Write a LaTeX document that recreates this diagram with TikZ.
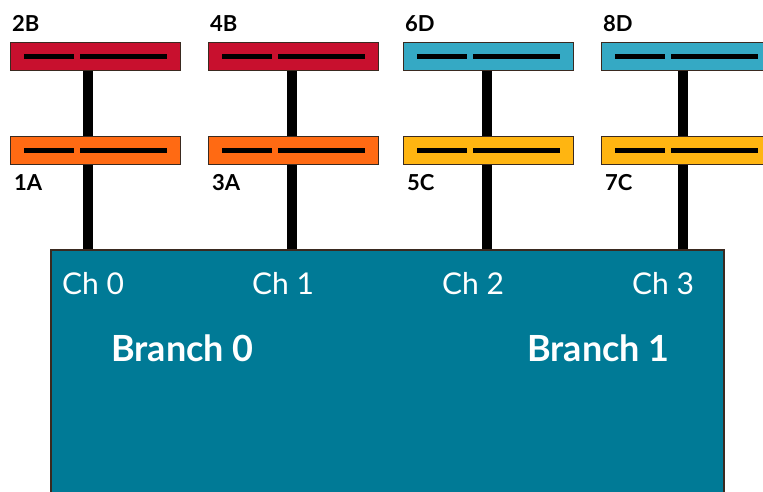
\documentclass[tikz,border=0pt]{standalone}
\usepackage{fontspec}
\setmainfont{Lato}
\usetikzlibrary{calc}
\definecolor{modred}{HTML}{C8102E}
\definecolor{modorange}{HTML}{FF6A13}
\definecolor{modcyan}{HTML}{35A9C4}
\definecolor{modyellow}{HTML}{FFB511}
\definecolor{ctrlteal}{HTML}{007A96}
\definecolor{edgedark}{HTML}{3A2A20}
\tikzset{
  dimm/.style={draw=edgedark, line width=0.8pt, minimum width=170pt, minimum height=28pt,
    inner sep=0pt, anchor=north west},
  slotline/.style={line width=5pt, black},
  bus/.style={line width=10pt, black},
  tag/.style={font=\bfseries\fontsize{22}{22}\selectfont, text=black, inner sep=0pt, anchor=base west},
  chlabel/.style={font=\fontsize{30}{30}\selectfont, text=white, inner sep=0pt, anchor=base west},
  brlabel/.style={font=\bfseries\fontsize{36}{36}\selectfont, text=white, inner sep=0pt, anchor=base west},
}
\begin{document}
\begin{tikzpicture}[x=1pt, y=-1pt]
\useasboundingbox (0,0) rectangle (763,492);

% bus lines from each DIMM pair down to the controller
\foreach \i/\lx/\cx in {1/10/88, 2/208/292, 3/403/487, 4/601/683} {
  \coordinate (top\i) at (\cx,70);
  \coordinate (mid\i) at (\cx,150);
  \coordinate (ctl\i) at (\cx,249);
  \draw[bus] (top\i) -- (ctl\i);
}

% memory controller
\node[draw=edgedark, line width=1.6pt, fill=ctrlteal, anchor=north west,
      minimum width=673pt, minimum height=243pt, inner sep=0pt] (ctrl) at (50,249) {};

% DIMM modules: upper and lower slot in each channel
\foreach \i/\lx/\up/\lo/\ut/\lt in {1/10/modred/modorange/2B/1A, 2/208/modred/modorange/4B/3A,
                                    3/403/modcyan/modyellow/6D/5C, 4/601/modcyan/modyellow/8D/7C} {
  \node[dimm, fill=\up] (u\i) at (\lx,42) {};
  \node[dimm, fill=\lo] (l\i) at (\lx,136) {};
  \draw[slotline] ($(u\i.west)+(14,0)$) -- ($(u\i.west)+(64,0)$);
  \draw[slotline] ($(u\i.west)+(70,0)$) -- ($(u\i.west)+(157,0)$);
  \draw[slotline] ($(l\i.west)+(14,0)$) -- ($(l\i.west)+(64,0)$);
  \draw[slotline] ($(l\i.west)+(70,0)$) -- ($(l\i.west)+(157,0)$);
  \node[tag] (ut\i) at (\lx+2,32) {\ut};
  \node[tag] (lt\i) at (\lx+4,190) {\lt};
}

% channel and branch labels
\node[chlabel] (ch0) at (62,294) {Ch 0};
\node[chlabel] (ch1) at (252,294) {Ch 1};
\node[chlabel] (ch2) at (442,294) {Ch 2};
\node[chlabel] (ch3) at (632,294) {Ch 3};
\node[brlabel] (br0) at (111,361) {Branch 0};
\node[brlabel] (br1) at (527,361) {Branch 1};
\end{tikzpicture}
\end{document}
